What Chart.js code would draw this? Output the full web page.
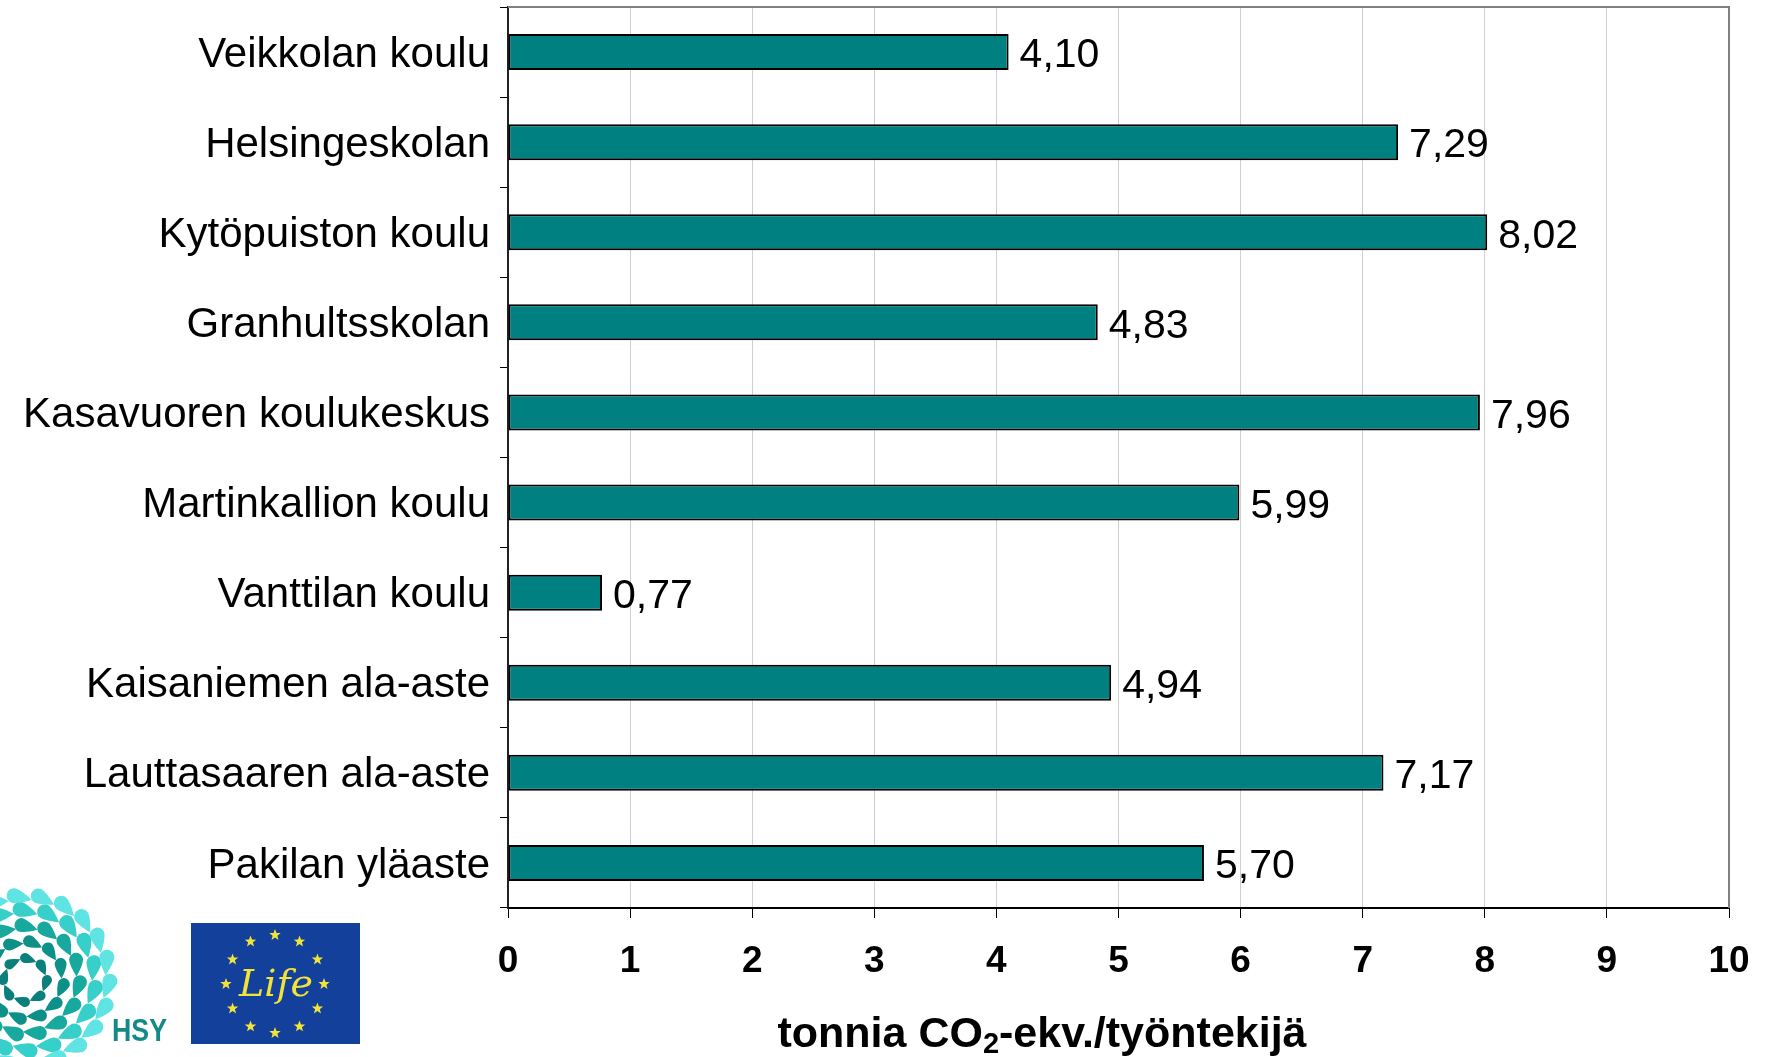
<!DOCTYPE html>
<html><head><meta charset="utf-8">
<script src="https://cdn.jsdelivr.net/npm/chart.js@4/dist/chart.umd.min.js"></script>
<style>
html,body{margin:0;padding:0;background:#fff;overflow:hidden}
#wrap{position:relative;width:1769px;height:1057px;background:#fff}
#c{position:absolute;left:0;top:0}
#logos{position:absolute;left:0;top:0;pointer-events:none}
</style></head><body>
<div id="wrap">
<canvas id="c" width="1769" height="1057" style="width:1769px;height:1057px"></canvas>
<svg id="logos" width="400" height="1057" xmlns="http://www.w3.org/2000/svg">
  <g id="spiral"></g>
  <text x="112" y="1041" font-family="Liberation Sans, Arial, sans-serif" font-weight="bold" font-size="31" fill="#138a86" textLength="55" lengthAdjust="spacingAndGlyphs">HSY</text>
  <rect x="191" y="923" width="169" height="121" fill="#12409a"/>
  <g id="stars"></g>
  <text x="276" y="996" text-anchor="middle" font-family="DejaVu Serif, serif" font-style="italic" font-size="38" fill="#f1e33a">Life</text>
</svg>
</div>
<script>
const categories = ["Veikkolan koulu","Helsingeskolan","Kytöpuiston koulu","Granhultsskolan","Kasavuoren koulukeskus","Martinkallion koulu","Vanttilan koulu","Kaisaniemen ala-aste","Lauttasaaren ala-aste","Pakilan yläaste"];
const values = [4.10,7.29,8.02,4.83,7.96,5.99,0.77,4.94,7.17,5.70];
const xMin = 0, xMax = 10, xStep = 1;
const titleMain = "tonnia CO", titleSub = "2", titleRest = "-ekv./työntekijä";

const FONT = "'Liberation Sans', Arial, sans-serif";

// decorative logos
(function(){
  const ns = "http://www.w3.org/2000/svg";
  const sp = document.getElementById('spiral');
  const cx = 25, cy = 980;
  const rings = [
    {R:22,n:8,a:5,c:'#0b7f79',off:0},
    {R:39,n:12,a:6,c:'#0d9088',off:0.2},
    {R:55,n:15,a:7,c:'#17a89e',off:0.1},
    {R:71,n:18,a:7.5,c:'#36cfca',off:0.3},
    {R:85,n:22,a:7.5,c:'#5fe3e3',off:0.05}
  ];
  rings.forEach(r=>{
    for(let i=0;i<r.n;i++){
      const ang = (i/r.n + r.off/r.n)*Math.PI*2;
      const x = cx + r.R*Math.cos(ang), y = cy + r.R*Math.sin(ang);
      const a = r.a;
      const p = document.createElementNS(ns,'path');
      p.setAttribute('d',`M0,${-2.4*a} Q${a*0.9},${-a*0.9} ${a},0 A${a},${a} 0 1 1 ${-a},0 Q${-a*0.9},${-a*0.9} 0,${-2.4*a} Z`);
      const deg = ang*180/Math.PI + 200;
      p.setAttribute('transform',`translate(${x.toFixed(1)},${y.toFixed(1)}) rotate(${deg.toFixed(1)})`);
      p.setAttribute('fill',r.c);
      sp.appendChild(p);
    }
  });
  const st = document.getElementById('stars');
  for(let i=0;i<12;i++){
    const ang = i/12*Math.PI*2 - Math.PI/2;
    const x = 275 + 49*Math.cos(ang), y = 984 + 49*Math.sin(ang);
    let d='';
    for(let k=0;k<10;k++){
      const rr = k%2===0?6:2.5;
      const aa = k*Math.PI/5 - Math.PI/2;
      d += (k===0?'M':'L') + (x+rr*Math.cos(aa)).toFixed(1)+','+(y+rr*Math.sin(aa)).toFixed(1);
    }
    const p = document.createElementNS(ns,'path');
    p.setAttribute('d',d+'Z'); p.setAttribute('fill','#f1e33a');
    st.appendChild(p);
  }
})();

const fmt = v => v.toFixed(2).replace('.', ',');

const valueLabels = {
  id:'valueLabels',
  afterDatasetsDraw(chart){
    const ctx = chart.ctx;
    const meta = chart.getDatasetMeta(0);
    ctx.save();
    ctx.fillStyle = '#000';
    ctx.font = `41px ${FONT}`;
    ctx.textAlign = 'left';
    ctx.textBaseline = 'middle';
    meta.data.forEach((bar,i)=>{
      ctx.fillText(fmt(values[i]), bar.x + 11, bar.y + 4);
    });
    ctx.restore();
  }
};

const frameAndTitle = {
  id:'frameAndTitle',
  afterDraw(chart){
    const ctx = chart.ctx, a = chart.chartArea;
    ctx.save();
    ctx.strokeStyle = '#808080';
    ctx.lineWidth = 2;
    ctx.beginPath();
    ctx.moveTo(a.left, a.top); ctx.lineTo(a.right, a.top); ctx.lineTo(a.right, a.bottom);
    ctx.stroke();
    // axis title with subscript
    ctx.fillStyle = '#000';
    ctx.textBaseline = 'alphabetic';
    ctx.textAlign = 'left';
    const mainFont = `bold 43px ${FONT}`, subFont = `bold 29px ${FONT}`;
    ctx.font = mainFont; const w1 = ctx.measureText(titleMain).width, w3 = ctx.measureText(titleRest).width;
    ctx.font = subFont; const w2 = ctx.measureText(titleSub).width;
    const total = w1 + w2 + w3;
    const cx = 1042, base = 1047;
    let x = cx - total/2;
    ctx.font = mainFont; ctx.fillText(titleMain, x, base); x += w1;
    ctx.font = subFont; ctx.fillText(titleSub, x, base + 6); x += w2;
    ctx.font = mainFont; ctx.fillText(titleRest, x, base);
    ctx.restore();
  }
};

new Chart(document.getElementById('c'), {
  type:'bar',
  data:{
    labels: categories,
    datasets:[{
      data: values,
      backgroundColor:'#008080',
      borderColor:'#000',
      borderWidth:2,
      borderSkipped:false,
      barPercentage:0.4,
      categoryPercentage:1
    }]
  },
  options:{
    indexAxis:'y',
    responsive:false,
    animation:false,
    devicePixelRatio:1,
    layout:{padding:{top:7,right:40,left:0,bottom:0}},
    plugins:{legend:{display:false},tooltip:{enabled:false},title:{display:false}},
    scales:{
      x:{
        type:'linear', position:'bottom', min:xMin, max:xMax,
        ticks:{stepSize:xStep, color:'#000', font:{family:FONT,size:37,weight:'bold'}, padding:22, maxRotation:0, autoSkip:false},
        grid:{color:'#cfcfcf', lineWidth:1, tickColor:'#000', tickLength:10, drawTicks:true},
        border:{color:'#000', width:2},
        afterFit(s){ s.height = 149; s.paddingLeft = 0; s.paddingRight = 0; }
      },
      y:{
        ticks:{color:'#000', font:{family:FONT,size:42}, padding:10, autoSkip:false, labelOffset:3},
        grid:{drawOnChartArea:false, tickLength:8, tickColor:'#000', offset:true},
        border:{color:'#222', width:2},
        afterFit(s){ s.width = 508; s.paddingTop = 0; s.paddingBottom = 0; }
      }
    }
  },
  plugins:[valueLabels, frameAndTitle]
});
</script>
</body></html>
